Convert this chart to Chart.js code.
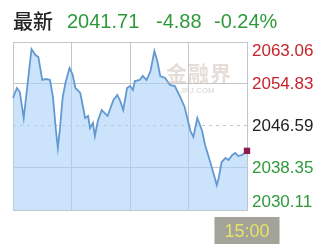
<!DOCTYPE html>
<html>
<head>
<meta charset="utf-8">
<script src="https://cdn.jsdelivr.net/npm/chart.js@4.4.1/dist/chart.umd.min.js"></script>
<style>
  body { margin: 0; background: #fff; }
  #wrap { position: relative; width: 316px; height: 244px; overflow: hidden; }
  .t { position: absolute; top: 9px; font: 20px "Liberation Sans", Arial, sans-serif; line-height: 24px; white-space: nowrap; }
  .g { color: #2e9a3c; }
  #wm { position: absolute; left: 166px; top: 57px; font: bold 21px "Noto Sans CJK SC", sans-serif; color: rgba(200,180,170,0.45); letter-spacing: 1px; pointer-events: none; }
  #wm2 { position: absolute; left: 180px; top: 86px; font: 8px "Liberation Sans", sans-serif; color: rgba(190,180,175,0.6); pointer-events: none; }
</style>
</head>
<body>
<div id="wrap">
  <canvas id="chart" width="316" height="244"></canvas>
  <span class="t" style="left:13px;color:#222;font-family:'Noto Sans CJK SC',sans-serif;font-weight:500">最新</span>
  <span class="t g" style="left:67px">2041.71</span>
  <span class="t g" style="left:156px">-4.88</span>
  <span class="t g" style="left:214px">-0.24%</span>
  <div id="wm">金融界</div>
  <div id="wm2">JRJ.COM</div>
</div>
<script>
const minutes = [0, 4, 7, 11, 19, 23, 26, 30, 34, 38, 41, 44, 46, 48, 51, 54, 58, 61, 64, 69,
  74, 77, 79, 82, 84, 87, 91, 94, 97, 103, 107, 110, 113, 117, 120, 123, 125, 130, 133, 137,
  141, 145, 148, 151, 156, 161, 166, 171, 176, 182, 185, 189, 194, 197, 202, 207, 209, 211,
  214, 218, 221, 225, 228, 231, 235, 240];
const prices = [2052.08, 2054.04, 2053.25, 2048.15, 2061.69, 2060.51, 2060.12, 2055.61, 2055.80, 2055.61,
  2052.27, 2045.80, 2042.27, 2045.80, 2052.27, 2055.21, 2057.96, 2056.78, 2054.04, 2053.06,
  2048.15, 2048.55, 2046.19, 2047.17, 2044.62, 2047.57, 2049.72, 2049.13, 2048.55, 2051.68,
  2052.67, 2051.49, 2049.72, 2054.04, 2054.43, 2053.65, 2055.41, 2055.61, 2056.39, 2055.61,
  2057.37, 2061.29, 2059.33, 2056.39, 2056.00, 2054.63, 2054.43, 2052.47, 2050.31, 2045.60,
  2044.43, 2048.15, 2045.60, 2042.86, 2039.72, 2036.39, 2035.01, 2036.39, 2039.52, 2040.31,
  2039.92, 2040.90, 2041.29, 2040.70, 2040.90, 2041.71];
const yTicks = [2030.11, 2038.35, 2046.59, 2054.83, 2063.06];
const prevClose = 2046.59;
const xTicks = [0, 60, 120, 180, 240];
const xLabels = ['', '', '', '', '15:00'];

// right side price labels, kept inside the plot box
const priceLabels = {
    id: 'priceLabels',
    afterDraw(c) {
        const s = c.scales.y, a = c.chartArea, ctx = c.ctx;
        ctx.save();
        ctx.font = '17px "Liberation Sans", Arial, sans-serif';
        ctx.textBaseline = 'middle';
        ctx.textAlign = 'left';
        yTicks.forEach(v => {
            let y = s.getPixelForValue(v);
            y = Math.min(Math.max(y, a.top + 9), a.bottom - 8);
            ctx.fillStyle = v > prevClose ? '#c4242c' : v < prevClose ? '#2e9a3c' : '#222';
            ctx.fillText(v.toFixed(2), a.right + 5, y);
        });
        ctx.restore();
    }
};

const ctx = document.getElementById('chart').getContext('2d');
new Chart(ctx, {
    type: 'line',
    data: {
        datasets: [{
            data: minutes.map((m, i) => ({ x: m, y: prices[i] })),
            borderColor: '#6399d2',
            borderWidth: 1.8,
            backgroundColor: 'rgba(170,210,248,0.6)',
            fill: 'start',
            tension: 0,
            clip: false,
            pointStyle: 'rect',
            pointRadius: c => c.dataIndex === prices.length - 1 ? 4.5 : 0,
            pointBackgroundColor: '#8c1c4c',
            pointBorderColor: '#8c1c4c',
            pointBorderWidth: 0
        }]
    },
    options: {
        responsive: false,
        animation: false,
        layout: { padding: { left: 13, top: 42, right: 0, bottom: 0 } },
        plugins: { legend: { display: false }, tooltip: { enabled: false } },
        scales: {
            x: {
                type: 'linear',
                min: 0,
                max: 240,
                afterBuildTicks: s => { s.ticks = xTicks.map(v => ({ value: v })); },
                afterFit: s => { s.height = 34; },
                grid: { color: '#c2c6ca', lineWidth: 1, drawTicks: false },
                border: { color: '#c2c6ca' },
                ticks: {
                    autoSkip: false,
                    maxRotation: 0,
                    padding: 11,
                    color: '#e6e468',
                    font: { size: 18, family: '"Liberation Sans", Arial, sans-serif' },
                    callback: (v, i) => xLabels[i],
                    showLabelBackdrop: c => c.index === xTicks.length - 1,
                    backdropColor: '#a3a399',
                    backdropPadding: { x: 10, y: 4 }
                }
            },
            y: {
                position: 'right',
                min: yTicks[0],
                max: yTicks[yTicks.length - 1],
                afterBuildTicks: s => { s.ticks = yTicks.map(v => ({ value: v })); },
                afterFit: s => { s.width = 69; },
                grid: { color: '#c2c6ca', lineWidth: 1, drawTicks: false },
                border: {
                    color: '#c2c6ca',
                    dash: c => (c.tick && c.tick.value === prevClose) ? [3, 4] : []
                },
                ticks: { display: false }
            }
        }
    },
    plugins: [priceLabels]
});
</script>
</body>
</html>
